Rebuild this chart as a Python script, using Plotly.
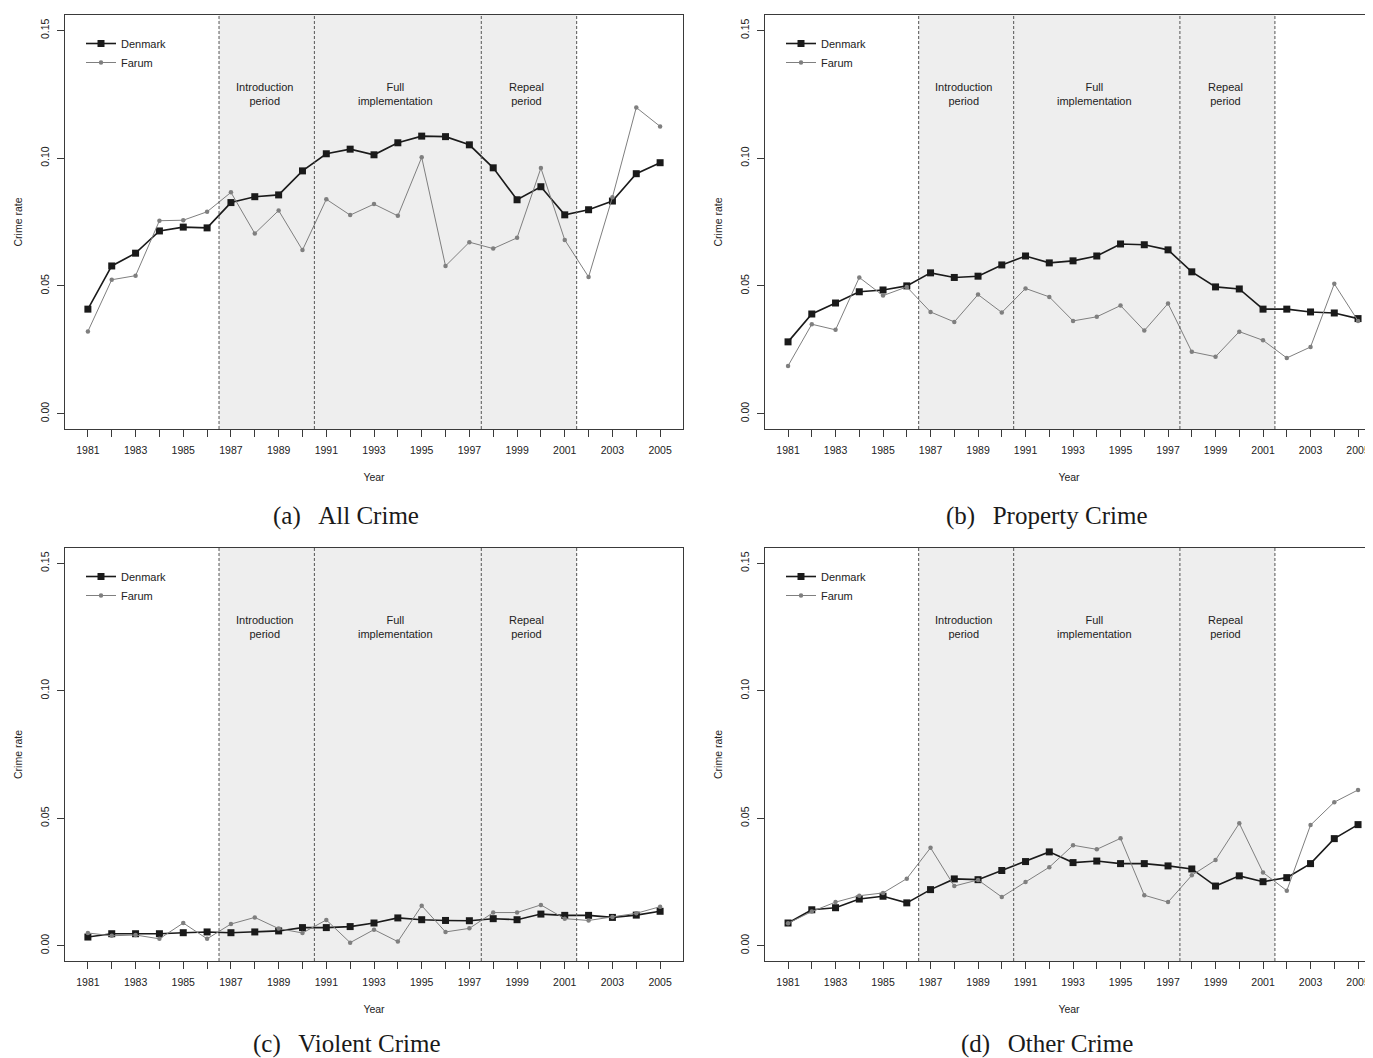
import plotly.graph_objects as go

years = list(range(1981, 2006))

all_denmark = [0.0409, 0.0578, 0.0628, 0.0715, 0.0730, 0.0727, 0.0826, 0.0849, 0.0856, 0.0950,
               0.1017, 0.1035, 0.1013, 0.1060, 0.1086, 0.1084, 0.1052, 0.0962, 0.0837, 0.0888,
               0.0778, 0.0798, 0.0832, 0.0939, 0.0982]
all_farum = [0.0322, 0.0524, 0.0540, 0.0755, 0.0757, 0.0790, 0.0866, 0.0705, 0.0795, 0.0640,
             0.0839, 0.0777, 0.0820, 0.0774, 0.1003, 0.0578, 0.0671, 0.0646, 0.0688, 0.0961,
             0.0680, 0.0535, 0.0847, 0.1198, 0.1124]

prop_denmark = [0.0281, 0.0390, 0.0433, 0.0477, 0.0484, 0.0500, 0.0551, 0.0533, 0.0538, 0.0582,
                0.0617, 0.0590, 0.0598, 0.0617, 0.0664, 0.0661, 0.0641, 0.0555, 0.0496, 0.0488,
                0.0409, 0.0409, 0.0398, 0.0394, 0.0372]
prop_farum = [0.0187, 0.0350, 0.0328, 0.0533, 0.0462, 0.0496, 0.0398, 0.0359, 0.0466, 0.0396,
              0.0490, 0.0457, 0.0363, 0.0379, 0.0423, 0.0325, 0.0431, 0.0242, 0.0223, 0.0321,
              0.0287, 0.0218, 0.0261, 0.0508, 0.0363]

viol_denmark = [0.0034, 0.0047, 0.0047, 0.0047, 0.0051, 0.0054, 0.0051, 0.0054, 0.0058, 0.0071,
                0.0071, 0.0075, 0.0089, 0.0109, 0.0102, 0.0099, 0.0098, 0.0106, 0.0102, 0.0124,
                0.0119, 0.0119, 0.0111, 0.0120, 0.0135]
viol_farum = [0.0050, 0.0039, 0.0042, 0.0027, 0.0089, 0.0027, 0.0085, 0.0111, 0.0067, 0.0050,
              0.0101, 0.0012, 0.0063, 0.0016, 0.0157, 0.0054, 0.0068, 0.0130, 0.0130, 0.0160,
              0.0106, 0.0099, 0.0113, 0.0127, 0.0153]

other_denmark = [0.0089, 0.0141, 0.0149, 0.0183, 0.0194, 0.0168, 0.0220, 0.0262, 0.0259, 0.0295,
                 0.0330, 0.0368, 0.0326, 0.0332, 0.0322, 0.0322, 0.0313, 0.0301, 0.0234, 0.0274,
                 0.0251, 0.0267, 0.0322, 0.0420, 0.0475]
other_farum = [0.0088, 0.0134, 0.0171, 0.0196, 0.0207, 0.0263, 0.0384, 0.0234, 0.0258, 0.0191,
               0.0250, 0.0308, 0.0394, 0.0378, 0.0421, 0.0198, 0.0171, 0.0276, 0.0336, 0.0480,
               0.0287, 0.0216, 0.0473, 0.0563, 0.0611]

captions = ["(a)\u2002\u2009All Crime", "(b)\u2002\u2009Property Crime",
            "(c)\u2002\u2009Violent Crime", "(d)\u2002\u2009Other Crime"]
series_names = ["Denmark", "Farum"]
period_edges = [1986.5, 1990.5, 1997.5, 2001.5]
period_labels = ["Introduction<br>period", "Full<br>implementation", "Repeal<br>period"]
period_centers = [1988.4, 1993.9, 1999.4]
y_ticks = [0.0, 0.05, 0.10, 0.15]
y_ticklabels = ["0.00", "0.05", "0.10", "0.15"]
x_ticklabels = [str(y) if y % 2 == 1 else "" for y in years]

panels = [(all_denmark, all_farum), (prop_denmark, prop_farum),
          (viol_denmark, viol_farum), (other_denmark, other_farum)]

# the page body has an 8px margin, so the figure is 8px smaller and shifted
OFF = 8
W, H = 1373 - OFF, 1058 - OFF
# panel boxes in window pixels: left, right, top, bottom, and x range
boxes = [
    (65, 683, 15, 429, [1980.04, 2005.96]),
    (765, 1373, 15, 429, [1980.03, 2005.63]),
    (65, 683, 548, 961, [1980.04, 2005.96]),
    (765, 1373, 548, 961, [1980.03, 2005.63]),
]
caption_pos = [(346, 516), (1047, 516), (346, 1044), (1047, 1044)]


def px(x):
    return (x - OFF) / W


def py(y):
    return 1 - (y - OFF) / H


SANS = "Liberation Sans, Arial, Helvetica, sans-serif"
SERIF = "Liberation Serif, Times New Roman, serif"
AXC = "#3a3a3a"
TXT = "#222222"

fig = go.Figure()
layout = dict(width=W, height=H, margin=dict(l=0, r=0, t=0, b=0),
              paper_bgcolor="white", plot_bgcolor="white",
              font=dict(family=SANS, size=11, color=TXT))
shapes = []
annotations = []

for i, ((dk, fa), (l, r, t, b, xr)) in enumerate(zip(panels, boxes)):
    n = i + 1
    xa = "x" if n == 1 else f"x{n}"
    ya = "y" if n == 1 else f"y{n}"
    lg = "legend" if n == 1 else f"legend{n}"
    fig.add_trace(go.Scatter(x=years, y=dk, name=series_names[0], mode="lines+markers",
                             line=dict(color="#1a1a1a", width=1.6),
                             marker=dict(symbol="square", size=7, color="#1a1a1a"),
                             xaxis=xa, yaxis=ya, legend=lg))
    fig.add_trace(go.Scatter(x=years, y=fa, name=series_names[1], mode="lines+markers",
                             line=dict(color="#7f7f7f", width=1),
                             marker=dict(symbol="circle", size=4.5, color="#7f7f7f"),
                             xaxis=xa, yaxis=ya, legend=lg))
    right_full = r < 1373
    layout[f"xaxis{'' if n == 1 else n}"] = dict(
        domain=[px(l), min(px(r), 1.0)], range=xr, anchor=ya,
        tickmode="array", tickvals=years, ticktext=x_ticklabels,
        ticks="outside", ticklen=7, tickcolor=AXC, tickwidth=1,
        showline=True, linecolor=AXC, linewidth=1.2, mirror=True,
        showgrid=False, zeroline=False,
        tickfont=dict(size=10.5, family=SANS, color=TXT),
        ticklabelstandoff=4,
        title=dict(text="Year", font=dict(size=10.5, family=SANS, color=TXT), standoff=18),
    )
    layout[f"yaxis{'' if n == 1 else n}"] = dict(
        domain=[py(b), py(t)], range=[-0.006, 0.156], anchor=xa,
        tickmode="array", tickvals=y_ticks, ticktext=y_ticklabels, tickangle=-90,
        ticks="outside", ticklen=7, tickcolor=AXC, tickwidth=1,
        showline=True, linecolor=AXC, linewidth=1.2, mirror=right_full,
        showgrid=False, zeroline=False,
        tickfont=dict(size=10.5, family=SANS, color=TXT),
        ticklabelstandoff=4,
        title=dict(text="Crime rate", font=dict(size=10.5, family=SANS, color=TXT), standoff=14),
    )
    layout[lg] = dict(x=px(l + 16), y=py(t + 14), xanchor="left", yanchor="top",
                      bgcolor="rgba(0,0,0,0)", borderwidth=0, tracegroupgap=0,
                      itemwidth=30, font=dict(size=11, family=SANS, color=TXT))
    # shaded treatment window
    shapes.append(dict(type="rect", xref=xa, yref=f"{ya} domain",
                       x0=period_edges[0], x1=period_edges[-1], y0=0, y1=1,
                       fillcolor="#eeeeee", line=dict(width=0), layer="below"))
    for e in period_edges:
        shapes.append(dict(type="line", xref=xa, yref=f"{ya} domain", x0=e, x1=e, y0=0, y1=1,
                           line=dict(color="#555555", width=1, dash="3px,2px"), layer="above"))
    for txt, c in zip(period_labels, period_centers):
        annotations.append(dict(x=c, y=0.125, xref=xa, yref=ya, text=txt, showarrow=False,
                                font=dict(size=11, family=SANS, color=TXT),
                                xanchor="center", yanchor="middle"))
    cx, cy = caption_pos[i]
    annotations.append(dict(x=px(cx), y=py(cy), xref="paper", yref="paper", text=captions[i],
                            showarrow=False, font=dict(size=25, family=SERIF, color="#1a1a1a"),
                            xanchor="center", yanchor="middle"))

layout["shapes"] = shapes
layout["annotations"] = annotations
fig.update_layout(**layout)
fig.write_html("out.html")
